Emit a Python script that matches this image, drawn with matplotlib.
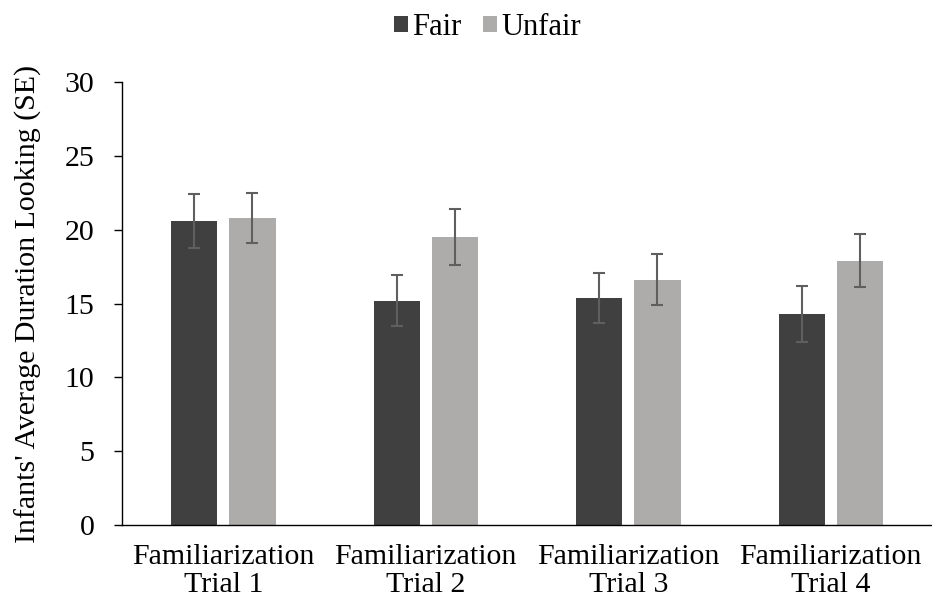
import numpy as np
import matplotlib.pyplot as plt

plt.rcParams['font.family'] = ['Liberation Serif', 'DejaVu Serif']

categories = ['Familiarization\nTrial 1', 'Familiarization\nTrial 2',
              'Familiarization\nTrial 3', 'Familiarization\nTrial 4']
fair = [20.6, 15.2, 15.35, 14.3]
unfair = [20.8, 19.5, 16.6, 17.9]
fair_se = [1.85, 1.75, 1.7, 1.9]
unfair_se = [1.68, 1.87, 1.73, 1.8]

fig = plt.figure(figsize=(9.32, 6.08), dpi=100)
ax = fig.add_axes([0.131, 0.1365, 0.869, 0.7285])

x = np.arange(len(categories))
w = 0.228
gap = 0.06
err_kw = dict(ecolor='#5f5f5f', elinewidth=1.5, capsize=4.3, capthick=1.5)
ax.bar(x - (w + gap) / 2, fair, w, yerr=fair_se, color='#404040',
       label='Fair', error_kw=err_kw)
ax.bar(x + (w + gap) / 2, unfair, w, yerr=unfair_se, color='#aeabab',
       label='Unfair', error_kw=err_kw)

ax.set_xlim(-0.5, 3.5)
ax.set_ylim(0, 30)
ax.set_yticks(range(0, 31, 5))
ax.set_xticks(x)
ax.set_xticklabels(categories, fontsize=21.5, linespacing=1.1)
ax.tick_params(axis='x', length=0, pad=14)
ax.tick_params(axis='y', labelsize=21.5, length=6, width=1, pad=14)
ax.set_ylabel("Infants' Average Duration Looking (SE)", fontsize=21.5, labelpad=16)

for s in ['top', 'right']:
    ax.spines[s].set_visible(False)
ax.spines['left'].set_linewidth(1)
ax.spines['bottom'].set_linewidth(1)

fig.legend(loc='center', bbox_to_anchor=(0.523, 0.955), ncol=2, frameon=False,
           fontsize=22, handlelength=0.45, handleheight=0.45, handletextpad=0.15,
           columnspacing=0.7)

fig.savefig('out.png', dpi=100)
